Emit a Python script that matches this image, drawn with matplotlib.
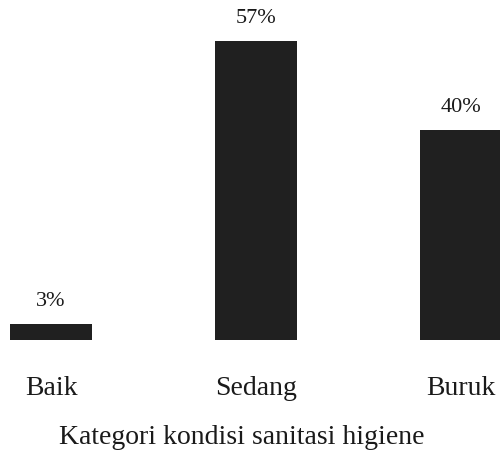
import matplotlib
matplotlib.use("Agg")
import matplotlib.pyplot as plt

categories = ["Baik", "Sedang", "Buruk"]
values = [3, 57, 40]
value_labels = ["3%", "57%", "40%"]
xlabel = "Kategori kondisi sanitasi higiene"

plt.rcParams['font.family'] = ['Liberation Serif', 'DejaVu Serif']

fig = plt.figure(figsize=(5.0, 4.52), dpi=100)
ax = fig.add_axes([0, 0.2456, 1, 0.7544])
x = list(range(len(categories)))
ax.bar(x, values, width=0.4, color="#202020")
ax.set_xlim(-0.249, 2.190)
ax.set_ylim(0, 65)
for s in ax.spines.values():
    s.set_visible(False)
ax.set_yticks([])
ax.set_xticks(x)
ax.set_xticklabels(categories, fontsize=20, color="#1a1a1a")
ax.tick_params(axis="x", length=0, pad=25)
for xi, v, lab in zip(x, values, value_labels):
    ax.annotate(lab, (xi, v), xytext=(0, 10), textcoords="offset points",
                ha="center", va="bottom", fontsize=16, color="#1a1a1a")
fig.text(0.484, 0.032, xlabel, ha="center", va="center", fontsize=20, color="#1a1a1a")
fig.savefig("out.png", dpi=100)
